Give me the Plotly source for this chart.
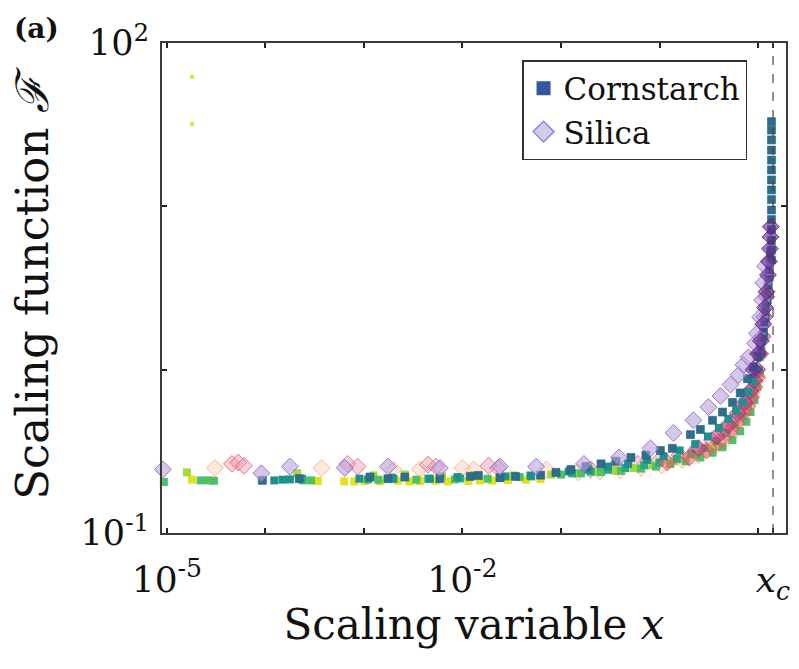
import plotly.graph_objects as go

# ---------------- data ----------------
XC = 14.2  # critical value x_c

x_tickvals = [1e-5, 1e-2, XC]
x_ticktext = ["10<sup>-5</sup>", "10<sup>-2</sup>", "<i>x<sub>c</sub></i>"]
x_minorvals = [1e-4, 1e-3, 1e-1, 1e0, 1e1]
y_tickvals = [0.1, 100]
y_ticktext = ["10<sup>-1</sup>", "10<sup>2</sup>"]
y_minorvals = [1, 10]

# Cornstarch (squares)
cs_yellow_x = [1.8e-5, 3.4e-4, 6.3e-4, 8.0e-4, 1.02e-3, 1.45e-3, 2.2e-3, 2.9e-3, 3.7e-3, 5.3e-3,
               7.1e-3, 1.15e-2, 1.5e-2, 2.0e-2, 2.9e-2, 4.4e-2, 6.2e-2]
cs_yellow_F = [0.212, 0.208, 0.207, 0.207, 0.208, 0.207, 0.209, 0.207, 0.208, 0.209,
               0.207, 0.208, 0.21, 0.209, 0.211, 0.212, 0.214]
cs_outlier_x = [1.8e-5, 1.8e-5]
cs_outlier_F = [62.0, 32.0]

cs_ygreen_x = [1.6e-5, 2.1e-4, 1.25e-3, 2.6e-3, 6.2e-3, 1.3e-2, 3.3e-2, 0.08, 0.14, 0.22,
               0.35, 0.55, 0.85, 1.4, 2.3, 3.5]
cs_ygreen_F = [0.235, 0.232, 0.225, 0.228, 0.222, 0.226, 0.225, 0.228, 0.232, 0.236,
               0.242, 0.25, 0.26, 0.275, 0.3, 0.33]

cs_green_x = [9.3e-6, 2.2e-5, 2.6e-5, 3.0e-5, 2.4e-4, 2.9e-4, 1.4e-3, 3.4e-3, 8.4e-3, 1.8e-2,
              3.8e-2, 0.1, 0.16, 0.255, 0.406, 0.648, 0.92, 1.29, 1.84, 2.6,
              3.45, 4.36, 5.5, 6.6, 7.6, 8.4, 9.2, 9.8, 10.5, 11.0,
              11.5, 12.1, 12.5, 13.1]
cs_green_F = [0.205, 0.21, 0.21, 0.209, 0.21, 0.21, 0.212, 0.212, 0.213, 0.215,
              0.22, 0.228, 0.232, 0.236, 0.24, 0.248, 0.255, 0.265, 0.275, 0.29,
              0.31, 0.335, 0.37, 0.42, 0.48, 0.55, 0.65, 0.78, 0.95, 1.25,
              1.6, 2.2, 3.0, 4.2]

cs_seagreen_x = [2.35e-4, 1.1e-3, 2.0e-3, 4.5e-3, 9.5e-3, 2.4e-2, 5.0e-2, 0.13, 0.2, 0.3,
                 0.45, 0.7, 1.0, 1.5, 2.1, 2.9, 3.8, 4.8, 5.8, 6.9,
                 7.9, 8.8, 9.5, 10.2, 10.8, 11.4, 12.0, 12.6, 13.2]
cs_seagreen_F = [0.215, 0.213, 0.214, 0.215, 0.216, 0.218, 0.222, 0.232, 0.238, 0.244,
                 0.25, 0.26, 0.27, 0.285, 0.305, 0.33, 0.365, 0.41, 0.46, 0.52,
                 0.6, 0.7, 0.82, 1.0, 1.3, 1.7, 2.4, 3.3, 4.8]

cs_teal_x = [1.23e-4, 1.49e-4, 1.77e-4, 9.0e-4, 1.92e-3, 4.67e-3, 8.9e-3, 2.73e-2, 4.9e-2, 0.12,
             0.19, 0.3, 0.48, 0.75, 1.1, 1.6, 2.3, 3.1, 4.0, 5.0,
             6.0, 7.0, 8.0, 8.9, 9.7, 10.4, 11.0, 11.6, 12.2, 12.8, 13.3]
cs_teal_F = [0.21, 0.212, 0.213, 0.215, 0.218, 0.215, 0.22, 0.222, 0.225, 0.238,
             0.245, 0.255, 0.265, 0.28, 0.295, 0.32, 0.35, 0.39, 0.44, 0.5,
             0.56, 0.63, 0.73, 0.85, 1.0, 1.2, 1.5, 1.95, 2.6, 3.6, 5.3]

cs_dark_x = [9.3e-5, 2.2e-4, 1.15e-3, 1.75e-3, 2.6e-3, 5.9e-3, 1.2e-2, 1.45e-2, 2.4e-2, 3.45e-2,
             6.2e-2, 8.9e-2, 0.126, 0.179, 0.255, 0.362, 0.513, 0.728, 1.02, 1.35,
             2.06, 2.6, 3.45, 4.36, 5.5, 6.6, 7.8, 9.0, 9.8, 10.5,
             11.3, 11.8, 12.4, 12.7, 13.0, 13.7, 13.7, 13.7, 13.7, 13.7,
             13.7, 13.7, 13.7, 13.7, 13.7, 13.7, 13.7, 13.7, 13.7, 13.7]
cs_dark_F = [0.21, 0.215, 0.22, 0.215, 0.22, 0.215, 0.222, 0.225, 0.218, 0.222,
             0.226, 0.235, 0.245, 0.255, 0.265, 0.275, 0.29, 0.30, 0.32, 0.33,
             0.40, 0.43, 0.49, 0.55, 0.63, 0.72, 0.88, 1.04, 1.2, 1.42,
             1.67, 2.07, 2.67, 3.3, 4.1, 4.7, 5.4, 6.2, 7.2, 8.3,
             9.5, 11.0, 12.6, 14.5, 16.7, 19.2, 22.1, 25.5, 29.3, 33.0]

# Silica (diamonds)
si_lav_x = [9.1e-6, 9.1e-5, 1.77e-4, 6.4e-4, 1.75e-3, 5.9e-3, 2.4e-2, 5.6e-2, 0.171, 0.388,
            0.81, 1.39, 2.21, 3.14, 4.16, 5.26, 6.34, 7.1, 7.97, 9.33,
            9.77, 10.5, 11.0, 11.3, 11.8]
si_lav_F = [0.245, 0.232, 0.255, 0.25, 0.255, 0.25, 0.255, 0.255, 0.265, 0.29,
            0.33, 0.41, 0.49, 0.59, 0.69, 0.81, 0.93, 1.07, 1.19, 1.45,
            1.67, 2.1, 2.67, 3.4, 4.3]

si_pink_x = [4.57e-5, 5.3e-5, 6.05e-5, 6.8e-4, 8.6e-4, 4.46e-3, 5.4e-3, 1.84e-2, 2.3e-2, 0.2,
             0.35, 0.6, 1.0, 1.6, 2.4, 3.4, 4.5, 5.6, 6.7, 7.6, 8.5, 9.3]
si_pink_F = [0.265, 0.27, 0.258, 0.265, 0.255, 0.262, 0.255, 0.258, 0.25, 0.245,
             0.255, 0.265, 0.28, 0.3, 0.33, 0.37, 0.42, 0.48, 0.55, 0.63, 0.72, 0.85]

si_peach_x = [3.07e-5, 3.7e-4, 2.0e-3, 3.7e-3, 1.0e-2, 1.3e-2, 7.1e-2, 0.15, 0.25, 0.4,
              0.65, 1.05, 1.7, 2.5, 3.5, 4.6, 5.7]
si_peach_F = [0.25, 0.25, 0.245, 0.245, 0.25, 0.245, 0.245, 0.235, 0.238, 0.242,
              0.25, 0.26, 0.28, 0.3, 0.33, 0.37, 0.42]

si_red_x = [1.2, 2.0, 3.0, 4.0, 5.0, 6.0, 7.0, 7.8, 8.5, 9.2, 9.8]
si_red_F = [0.27, 0.29, 0.32, 0.36, 0.41, 0.47, 0.54, 0.6, 0.68, 0.78, 0.9]

si_magenta_x = [2.5, 3.8, 5.0, 6.2, 7.3, 8.3, 9.1, 9.8, 10.5, 11.1, 11.6, 12.1]
si_magenta_F = [0.33, 0.39, 0.46, 0.54, 0.63, 0.74, 0.86, 1.0, 1.25, 1.6, 2.1, 2.8]

si_purple_x = [9.0, 10.0, 10.7, 11.3, 11.8, 12.2, 12.6, 12.9, 13.2, 13.4, 13.5]
si_purple_F = [1.0, 1.25, 1.5, 1.9, 2.4, 3.0, 3.8, 4.6, 5.5, 6.5, 7.5]

# ---------------- figure ----------------
FONT = "DejaVu Serif"
fig = go.Figure()


def add(x, y, symbol, size, fill, edge, width=1.0):
    fig.add_trace(go.Scatter(
        x=x, y=y, mode="markers", showlegend=False, cliponaxis=False, hoverinfo="skip",
        marker=dict(symbol=symbol, size=size, color=fill, line=dict(color=edge, width=width)),
    ))


add(si_peach_x, si_peach_F, "diamond", 13, "rgba(252,205,180,0.45)", "rgba(245,170,130,0.8)")
add(si_pink_x, si_pink_F, "diamond", 13, "rgba(240,150,170,0.45)", "rgba(225,100,130,0.85)")
add(cs_yellow_x, cs_yellow_F, "square", 8, "#e2e21c", "#e2e21c", 0)
add(cs_outlier_x, cs_outlier_F, "square", 4, "#ecdf1a", "#ecdf1a", 0)
add(cs_ygreen_x, cs_ygreen_F, "square", 8, "#a6d63a", "#a6d63a", 0)
add(cs_green_x, cs_green_F, "square", 8, "#4fbf68", "#4fbf68", 0)
add(cs_seagreen_x, cs_seagreen_F, "square", 8, "#2aa980", "#2aa980", 0)
add(si_red_x, si_red_F, "diamond", 13, "rgba(245,95,95,0.55)", "rgba(240,80,90,0.9)")
add(si_magenta_x, si_magenta_F, "diamond", 13, "rgba(180,55,130,0.5)", "rgba(170,45,120,0.85)")
add(cs_teal_x, cs_teal_F, "square", 8, "#20908c", "#20908c", 0)
add(cs_dark_x, cs_dark_F, "square", 8, "#2b6f8c", "#2a5f80", 0.6)
add(si_lav_x, si_lav_F, "diamond", 13, "rgba(185,160,220,0.6)", "rgba(140,105,195,0.85)")
add(si_purple_x, si_purple_F, "diamond", 13, "rgba(105,35,145,0.6)", "rgba(95,30,135,0.85)")

# legend entries
fig.add_trace(go.Scatter(x=[None], y=[None], mode="markers", name="Cornstarch",
                         marker=dict(symbol="square", size=14, color="#34559f",
                                     line=dict(color="#34559f", width=0))))
fig.add_trace(go.Scatter(x=[None], y=[None], mode="markers", name="Silica",
                         marker=dict(symbol="diamond", size=18, color="#d9cbe8",
                                     line=dict(color="#8c86f0", width=1.5))))

fig.add_shape(type="line", xref="x", yref="paper", x0=XC, x1=XC, y0=0, y1=1,
              line=dict(color="#444444", width=1.2, dash="dash"))

fig.add_annotation(text="<b>(a)</b>", xref="paper", yref="paper", x=-0.24, y=1.03,
                   xanchor="left", yanchor="middle", showarrow=False,
                   font=dict(size=28, family=FONT, color="#111"))

axis_common = dict(showgrid=False, zeroline=False, showline=True, linecolor="#3a3a3a",
                   linewidth=2, mirror="allticks", ticks="inside", ticklen=5,
                   tickcolor="#222", tickwidth=1.5, automargin=False)

fig.update_xaxes(type="log", range=[-5.05, 1.284], tickmode="array",
                 tickvals=x_tickvals, ticktext=x_ticktext,
                 minor=dict(tickmode="array", tickvals=x_minorvals, ticks="inside",
                            ticklen=5, tickcolor="#222", tickwidth=1.5, showgrid=False),
                 tickfont=dict(size=36, family=FONT, color="#111"), ticklabelstandoff=14,
                 title=dict(text="Scaling variable <i>x</i>",
                            font=dict(size=42, family=FONT, color="#111"), standoff=2),
                 **axis_common)
fig.update_yaxes(type="log", range=[-1, 2], tickmode="array",
                 tickvals=y_tickvals, ticktext=y_ticktext,
                 minor=dict(tickmode="array", tickvals=y_minorvals, ticks="inside",
                            ticklen=5, tickcolor="#222", tickwidth=1.5, showgrid=False),
                 tickfont=dict(size=35, family=FONT, color="#111"), ticklabelstandoff=4,
                 title=dict(text="Scaling function <i>ℱ</i>",
                            font=dict(size=45, family=FONT, color="#111"), standoff=18),
                 **axis_common)

fig.update_layout(
    width=799, height=669,
    margin=dict(l=162, r=13, t=43, b=136),
    paper_bgcolor="white", plot_bgcolor="white",
    font=dict(family=FONT, color="#111"),
    legend=dict(x=0.577, y=0.965, xanchor="left", yanchor="top", bgcolor="white",
                bordercolor="#333", borderwidth=1.5,
                font=dict(size=31, family=FONT, color="#111"),
                itemsizing="trace", tracegroupgap=0),
)

fig.write_html("out.html", config={"displayModeBar": False},
               post_script="document.body.style.margin='0px';")
